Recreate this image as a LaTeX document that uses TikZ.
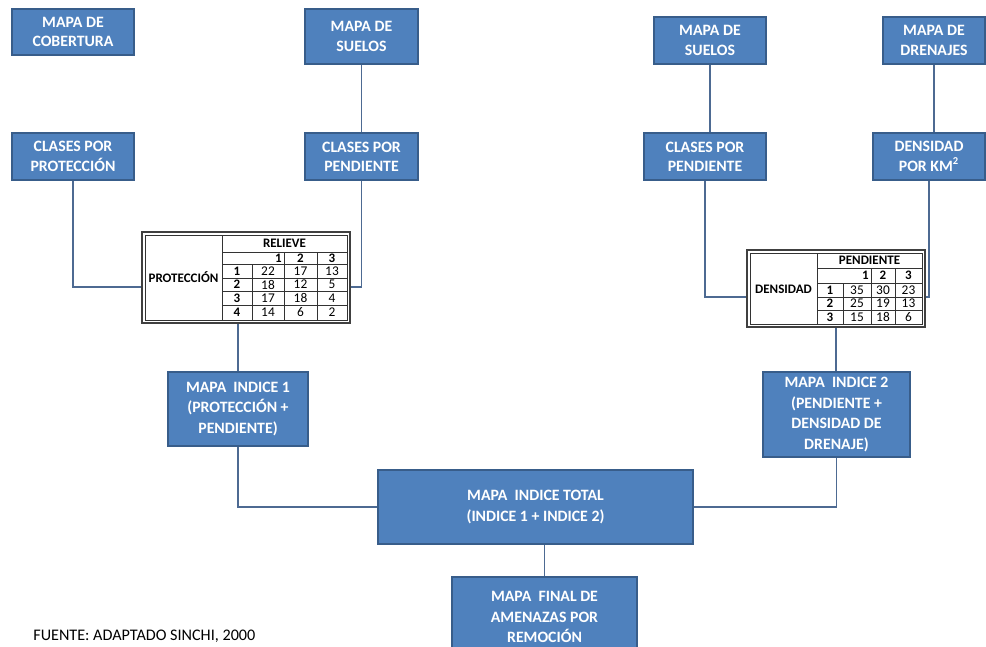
\documentclass[tikz,border=0pt]{standalone}
\usepackage{fontspec}
\setmainfont{Carlito}
\usetikzlibrary{shadows}
\definecolor{boxblue}{HTML}{4F81BD}
\definecolor{boxline}{HTML}{385D8A}
\definecolor{wirecol}{HTML}{4D6A92}
\begin{document}
\begin{tikzpicture}[x=0.02cm,y=-0.02cm,
  mapa/.style = {draw=boxline, line width=0.8pt, fill=boxblue, text=white, align=center,
    font=\bfseries\fontsize{9}{11}\selectfont, inner sep=1pt,
    drop shadow={shadow xshift=0.6pt, shadow yshift=-0.6pt, opacity=0.35}},
  wire/.style = {draw=wirecol, line width=0.7pt},
  tabla/.style = {draw=black!75, line width=1pt, fill=white, inner sep=0pt},
  grid/.style = {draw=black!80, line width=0.45pt},
  tb/.style = {font=\bfseries\fontsize{7.4}{8}\selectfont, inner sep=0pt},
  tn/.style = {font=\fontsize{7.6}{8}\selectfont, inner sep=0pt}
  ]
\useasboundingbox (0,0) rectangle (986,646);
\node[mapa, minimum width=2.44cm, minimum height=0.92cm] (cob) at (73,32) {MAPA DE\\COBERTURA};
\node[mapa, minimum width=2.26cm, minimum height=1.1cm] (suelo1) at (361.5,36.5) {MAPA DE\\SUELOS};
\node[mapa, minimum width=2.44cm, minimum height=0.94cm] (prot) at (73,156.5) {CLASES POR\\PROTECCIÓN};
\node[mapa, minimum width=2.26cm, minimum height=0.94cm] (pend1) at (361.5,156.5) {CLASES POR\\PENDIENTE};
\node[mapa, minimum width=2.24cm, minimum height=0.94cm] (suelo2) at (710,40.5) {MAPA DE\\SUELOS};
\node[mapa, minimum width=2.04cm, minimum height=0.94cm] (dren) at (934,40.5) {MAPA DE\\DRENAJES};
\node[mapa, minimum width=2.44cm, minimum height=0.94cm] (pend2) at (705,156.5) {CLASES POR\\PENDIENTE};
\node[mapa, minimum width=2.24cm, minimum height=0.94cm] (dens) at (929,156.5) {DENSIDAD\\POR KM\textsuperscript{2}};
\node[mapa, minimum width=2.8cm, minimum height=1.48cm, font=\bfseries\fontsize{9}{11.8}\selectfont] (ind1) at (238,409) {MAPA~ INDICE 1\\(PROTECCIÓN +\\PENDIENTE)};
\node[mapa, minimum width=2.94cm, minimum height=1.7cm, font=\bfseries\fontsize{9}{11.8}\selectfont] (ind2) at (836.5,414.5) {MAPA~ INDICE 2\\(PENDIENTE +\\DENSIDAD DE\\DRENAJE)};
\node[mapa, minimum width=6.3cm, minimum height=1.48cm, font=\bfseries\fontsize{9}{11.5}\selectfont] (total) at (535.5,507) {MAPA~ INDICE TOTAL\\(INDICE 1 + INDICE 2)};
\node[mapa, minimum width=3.7cm, minimum height=1.6cm, font=\bfseries\fontsize{9}{11.5}\selectfont] (final) at (544.5,617) {MAPA~ FINAL DE\\AMENAZAS POR\\REMOCIÓN};
\node[anchor=west, font=\fontsize{9.2}{10}\selectfont, inner sep=0pt] (fuente) at (33,636) {FUENTE: ADAPTADO SINCHI, 2000};

\node[tabla, minimum width=4.16cm, minimum height=1.82cm] (t1) at (246,277.5) {};
\draw[grid] (145,235) rectangle (347,320);
\draw[grid] (222,235) -- (222,320);
\draw[grid] (252,264) -- (252,320);
\foreach \x in {284,317} \draw[grid] (\x,252) -- (\x,320);
\foreach \y in {252,264,278,291,305} \draw[grid] (222,\y) -- (347,\y);
\node[tb] (p1) at (183.5,277.5) {PROTECCIÓN};
\node[tb] (r1) at (284.5,243.5) {RELIEVE};
\node[tb, anchor=east] (c11) at (282,258) {1};
\node[tb] (c12) at (300.5,258) {2};
\node[tb] (c13) at (332,258) {3};
\foreach \n/\y/\a/\b/\c in {1/271/22/17/13, 2/284.5/18/12/5, 3/298/17/18/4, 4/312.5/14/6/2} {
  \node[tb] (f1\n) at (237,\y) {\n};
  \node[tn] at (268,\y) {\a};
  \node[tn] at (300.5,\y) {\b};
  \node[tn] at (332,\y) {\c};
}

\node[tabla, minimum width=3.56cm, minimum height=1.54cm] (t2) at (836,288.5) {};
\draw[grid] (750,253) rectangle (922,324);
\draw[grid] (817,253) -- (817,324);
\draw[grid] (843,283) -- (843,324);
\foreach \x in {871,895} \draw[grid] (\x,268) -- (\x,324);
\foreach \y in {268,283,297,310} \draw[grid] (817,\y) -- (922,\y);
\node[tb] (d2) at (783.5,289) {DENSIDAD};
\node[tb] (r2) at (869.5,260.5) {PENDIENTE};
\node[tb, anchor=east] (c21) at (869,275.5) {1};
\node[tb] (c22) at (883,275.5) {2};
\node[tb] (c23) at (908.5,275.5) {3};
\foreach \n/\y/\a/\b/\c in {1/290/35/30/23, 2/303.5/25/19/13, 3/317/15/18/6} {
  \node[tb] (f2\n) at (830,\y) {\n};
  \node[tn] at (857,\y) {\a};
  \node[tn] at (883,\y) {\b};
  \node[tn] at (908.5,\y) {\c};
}

\coordinate (h1) at (0,287);
\coordinate (h2) at (0,297);
\draw[wire] (suelo1) -- (pend1);
\draw[wire] (prot.south) |- (t1.west |- h1);
\draw[wire] (pend1.south) |- (t1.east |- h1);
\draw[wire] (ind1.north |- t1.south) -- (ind1.north);
\draw[wire] (ind1.south) |- (total.west);
\draw[wire] (suelo2.south) -- (suelo2.south |- pend2.north);
\draw[wire] (pend2.south) |- (t2.west |- h2);
\draw[wire] (dren.south) -- (dren.south |- dens.north);
\draw[wire] (dens.south) |- (t2.east |- h2);
\draw[wire] (t2.south) -- (t2.south |- ind2.north);
\draw[wire] (ind2.south) |- (total.east);
\draw[wire] (final.north |- total.south) -- (final.north);
\end{tikzpicture}
\end{document}
